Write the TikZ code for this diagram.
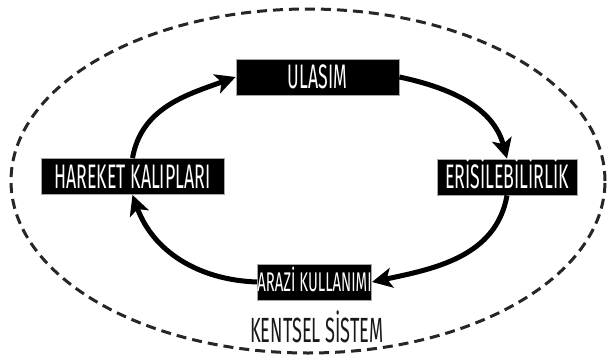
\documentclass[tikz,border=0pt]{standalone}
\usepackage{fontspec}
\setmainfont{Fira Sans}[FakeStretch=0.52]
\newfontfamily\arfont{Fira Sans}[FakeStretch=0.55]
\usetikzlibrary{arrows.meta}
\tikzset{
  box/.style={draw=gray!70, line width=0.8pt, fill=black, text=white, inner sep=0pt,
    minimum height=36pt, text height=23.4pt, text depth=0pt,
    font=\fontsize{34}{34}\selectfont},
  smallbox/.style={box, text height=18.6pt, font=\arfont\fontsize{27}{27}\selectfont},
  flow/.style={line width=5pt, -{Stealth[length=20pt,width=20pt,inset=5pt]}},
  border/.style={line width=3pt, draw=black!85, dash pattern=on 10pt off 6pt}
}
\begin{document}
\begin{tikzpicture}[x=1pt,y=-1pt]
\useasboundingbox (0,0) rectangle (608,356);
\draw[border] (308,181) ellipse [x radius=297pt, y radius=172pt];
\node[box, minimum width=163pt] (ul) at (317.5,77) {ULASIM};
\node[box, minimum width=183pt] (hk) at (132.5,176.5) {HAREKET KALIPLARI};
\node[box, minimum width=140pt] (er) at (507,177) {ERİSİLEBİLİRLİK};
\node[smallbox, minimum width=107pt] (ar) at (314.5,282) {ARAZİ KULLANIMI};
\node[font=\fontsize{35}{35}\selectfont, text=black!90, inner sep=0pt, anchor=base] (ks) at (317,342) {KENTSEL SİSTEM};
\draw[flow] (hk.north) to[out=80,in=200] (ul.west);
\draw[flow] (ul.east) to[out=-12,in=105] (er.north);
\draw[flow] (er.south) to[out=-100,in=12] (ar.east);
\draw[flow] (ar.west) to[out=178,in=-70] (hk.south);
\end{tikzpicture}
\end{document}
